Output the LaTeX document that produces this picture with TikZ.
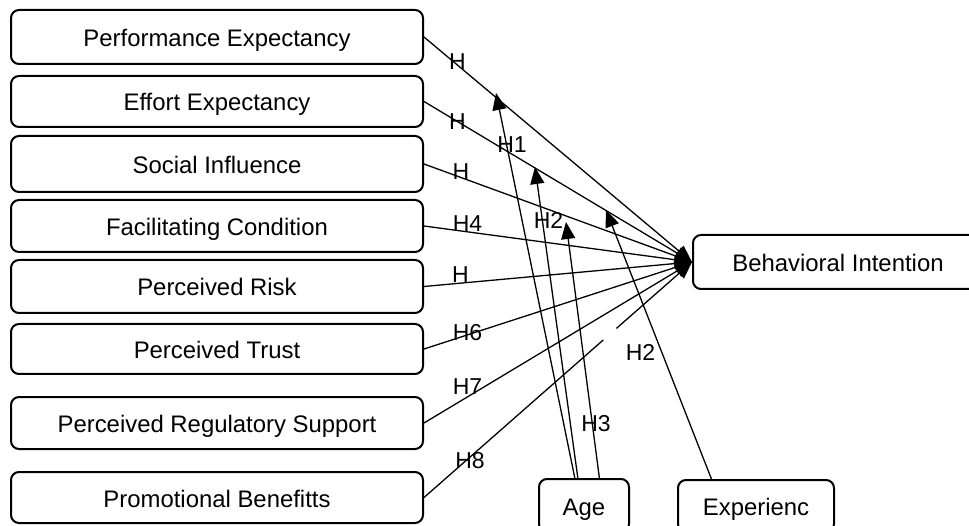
\documentclass[tikz,border=0pt]{standalone}
\usepackage{fontspec}
\setmainfont{Liberation Sans}
\usetikzlibrary{arrows.meta,calc}
\begin{document}
\begin{tikzpicture}[x=1pt,y=-1pt,
  box/.style={draw=black, line width=2pt, rounded corners=8pt, inner sep=0pt,
    text height=19pt, text depth=0pt, font=\fontsize{23.9}{28}\selectfont},
  lbox/.style={box, minimum width=412pt},
  conn/.style={line width=1.3pt, draw=black},
  arr/.style={conn, -{Triangle[length=17pt,width=14pt]}},
  lab/.style={inner sep=0pt, text depth=0pt, font=\fontsize{23}{27}\selectfont}]
\useasboundingbox (0,0) rectangle (969,526);
\clip (0,0) rectangle (969,526);
\fill[white] (0,0) rectangle (969,526);

% left constructs
\node[lbox, minimum height=54pt] (pe)  at (217,37)    {Performance Expectancy};
\node[lbox, minimum height=51pt] (ee)  at (217,101.5) {Effort Expectancy};
\node[lbox, minimum height=56pt] (si)  at (217,164)   {Social Influence};
\node[lbox, minimum height=52pt] (fc)  at (217,226)   {Facilitating Condition};
\node[lbox, minimum height=53pt] (pr)  at (217,286.5) {Perceived Risk};
\node[lbox, minimum height=50pt] (pt)  at (217,349)   {Perceived Trust};
\node[lbox, minimum height=52pt] (prs) at (217,423)   {Perceived Regulatory Support};
\node[lbox, minimum height=51pt] (pb)  at (217,497.5) {Promotional Benefitts};

% outcome and moderators
\node[box, minimum width=290pt, minimum height=54pt] (bi) at (838,262) {Behavioral Intention};
\node[box, minimum width=90pt, minimum height=53pt] (age) at (584,505.5) {Age};
\node[box, minimum width=156pt, minimum height=52pt] (exp) at (756,506) {Experienc};

% paths to Behavioral Intention
\draw[arr] (pe.east) -- (bi.west);
\draw[arr] (ee.east) -- (bi.west);
\draw[arr] (si.east) -- (bi.west);
\draw[arr] (fc.east) -- (bi.west);
\draw[arr] (pr.east) -- (bi.west);
\draw[arr] (pt.east) -- (bi.west);
\draw[arr] (prs.east) -- (bi.west);
\draw[conn] (pb.east) -- ($(pb.east)!0.669!(bi.west)$);
\draw[arr] ($(pb.east)!0.718!(bi.west)$) -- (bi.west);

% moderating arrows
\coordinate (m1) at (496,93);
\coordinate (m2) at (535,167);
\coordinate (m3) at (566,222);
\coordinate (m4) at (606,210);
\draw[arr] ($(age.north west)!0.4!(age.north east)$) -- (m1);
\draw[arr] ($(age.north west)!0.433!(age.north east)$) -- (m2);
\draw[arr] ($(age.north west)!0.667!(age.north east)$) -- (m3);
\draw[arr] ($(exp.north west)!0.218!(exp.north east)$) -- (m4);

% labels
\node[lab] (l1) at (457.5,61.5) {H};
\node[lab] (l2) at (457.5,121.5) {H};
\node[lab] (l3) at (461,171.5) {H};
\node[lab] (l4) at (467.5,223.5) {H4};
\node[lab] (l5) at (460.5,275) {H};
\node[lab] (l6) at (467.5,332) {H6};
\node[lab] (l7) at (467.5,386.5) {H7};
\node[lab] (l8) at (470,460) {H8};
\node[lab] (h1) at (512,144.5) {H1};
\node[lab] (h2a) at (548.5,220) {H2};
\node[lab] (h2b) at (640.5,352) {H2};
\node[lab] (h3) at (596,423.5) {H3};
\end{tikzpicture}
\end{document}
